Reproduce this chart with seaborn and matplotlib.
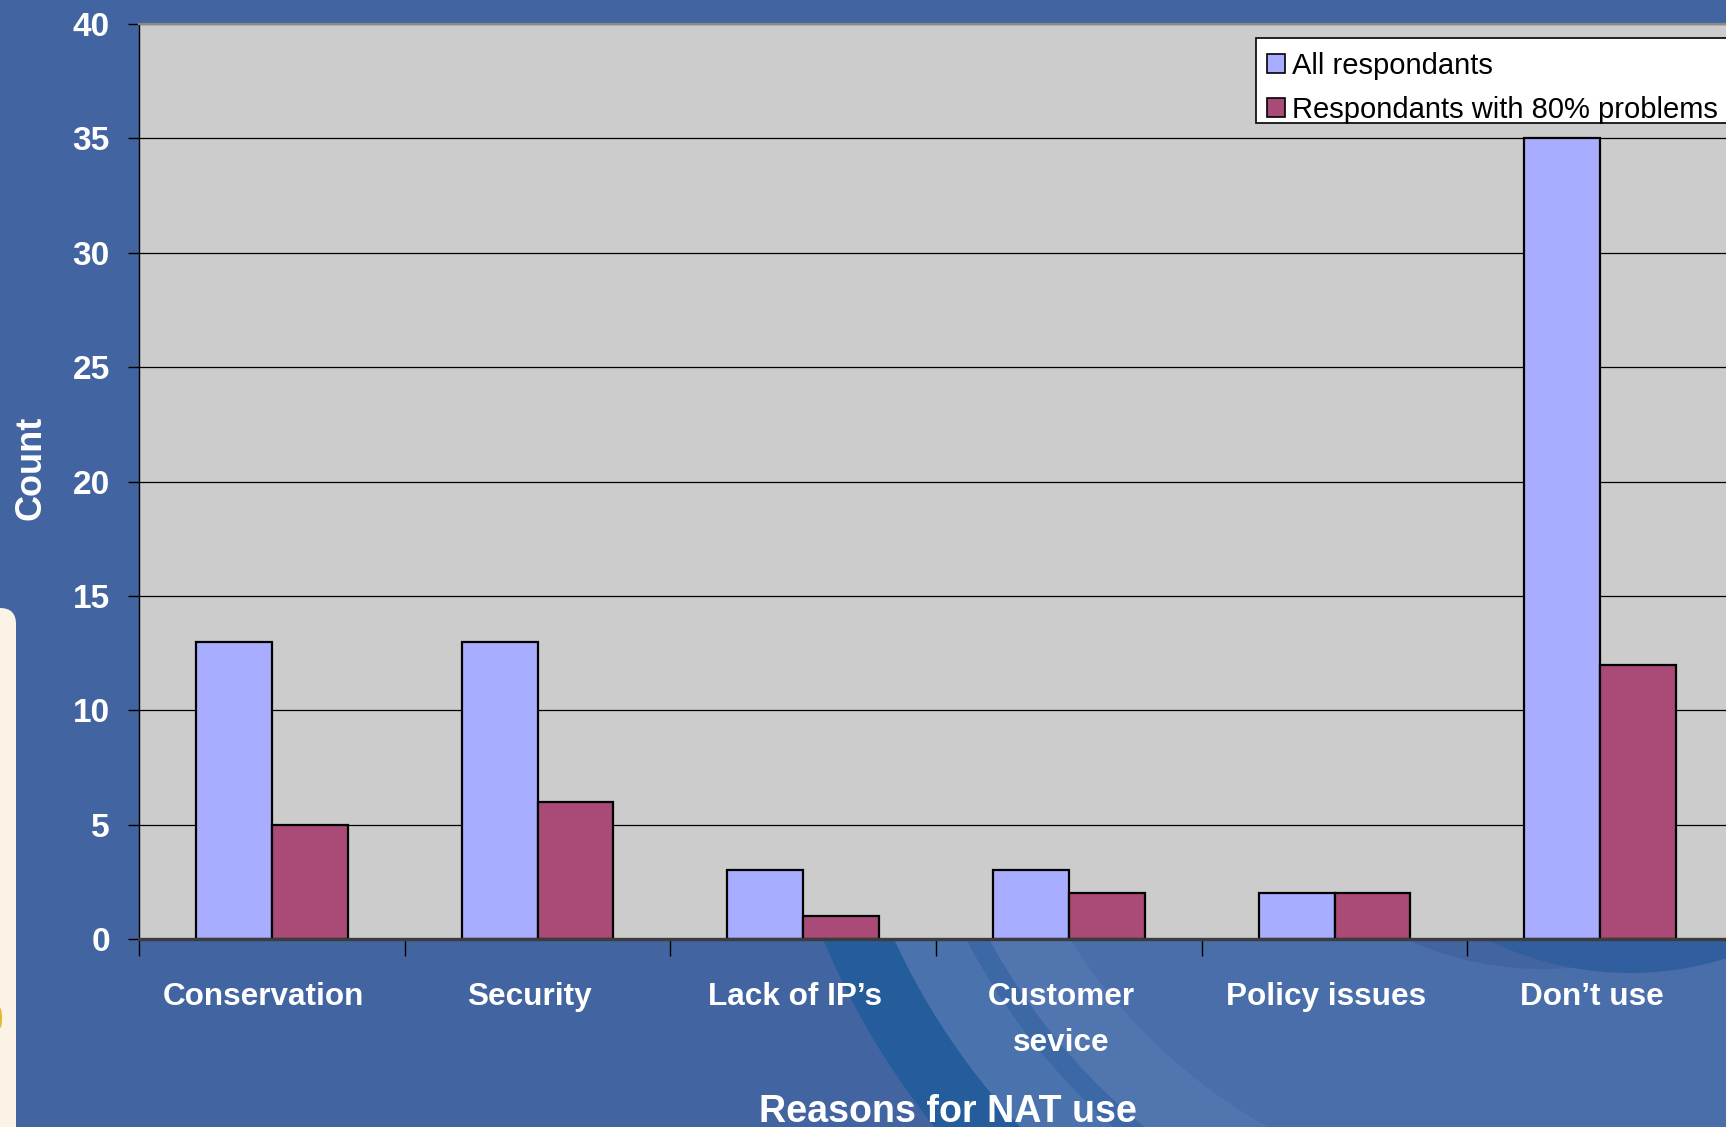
import matplotlib
matplotlib.use("Agg")
import matplotlib.pyplot as plt
import matplotlib.transforms as mtransforms
from matplotlib.patches import Wedge, Circle, Rectangle, FancyBboxPatch, Ellipse
import numpy as np
import pandas as pd
import seaborn as sns

# ---- data -------------------------------------------------------------
reasons = ["Conservation", "Security", "Lack of IP\u2019s",
           "Customer\nsevice", "Policy issues", "Don\u2019t use"]
all_respondants = [13, 13, 3, 3, 2, 35]
problem_respondants = [5, 6, 1, 2, 2, 12]
series_names = ["All respondants", "Respondants with 80% problems"]
y_ticks = [0, 5, 10, 15, 20, 25, 30, 35, 40]

df = pd.DataFrame({
    "reason": reasons * 2,
    "count": all_respondants + problem_respondants,
    "group": [series_names[0]] * len(reasons) + [series_names[1]] * len(reasons),
})

# ---- style ------------------------------------------------------------
BG = "#4264A1"
PLOT_BG = "#CCCCCC"
BAR_COLORS = ["#A9ADFF", "#AA4A77"]

sns.set_theme(style="white")
plt.rcParams["font.family"] = ["Liberation Sans", "DejaVu Sans"]

W, H = 1726, 1127
fig = plt.figure(figsize=(W / 100, H / 100), dpi=100, facecolor=BG)

# pixel coordinates (origin top-left) for the slide decoration
px = mtransforms.Affine2D().scale(1 / W, -1 / H).translate(0, 1) + fig.transFigure

# region below the plot area where the background swooshes show
clip = Rectangle((0, 939), W, H - 939, transform=px)


def deco(patch):
    patch.set_transform(px)
    patch.set_zorder(-10)
    patch.set_clip_path(clip)
    fig.patches.append(patch)


# concentric swoosh bands sweeping down to the right
SWOOSH_C = (1543, 639)
bands = [  # (outer radius, width, colour, alpha)
    (780, 65, "#245C9C", 1.0),
    (715, 65, "#4A72AD", 1.0),
    (650, 20, "#3C68A5", 1.0),
    (630, 70, "#5479B2", 0.85),
    (560, 105, "#4B71AD", 0.8),
    (455, 125, "#5077B0", 0.55),
]
for r, w, c, a in bands:
    deco(Wedge(SWOOSH_C, r, 0, 360, width=w, facecolor=c, edgecolor="none", alpha=a))
deco(Circle((1630, 651), 322, facecolor="#305E9E", edgecolor="none"))

# cream panel peeking in at the left edge
panel = FancyBboxPatch((-40, 608), 56, 600, boxstyle="round,pad=0,rounding_size=16",
                       transform=px, facecolor="#FAF3E6", edgecolor="none", zorder=-5)
fig.patches.append(panel)
fig.patches.append(Ellipse((0, 1018), 4, 20, transform=px, facecolor="#E8B52E",
                           edgecolor="none", zorder=-4))

# ---- chart ------------------------------------------------------------
ax = fig.add_axes([139 / W, 1 - 939 / H, (1733 - 139) / W, (939 - 24) / H])
ax.set_facecolor(PLOT_BG)
ax.set_axisbelow(True)

sns.barplot(data=df, x="reason", y="count", hue="group", palette=BAR_COLORS,
            saturation=1, width=2 / 3.5, gap=0, edgecolor="black",
            linewidth=1.6, ax=ax)

ax.set_xlim(-0.5, len(reasons) - 0.5)
ax.set_ylim(0, 40)
ax.set_yticks(y_ticks)
ax.yaxis.grid(True, color="black", linewidth=0.9)
ax.xaxis.grid(False)

ax.set_xticks(np.arange(-0.5, len(reasons), 1.0), minor=True)
ax.tick_params(axis="y", which="major", left=True, length=8, width=1,
               color="black", direction="out", pad=13, labelsize=24,
               labelcolor="white")
ax.tick_params(axis="x", which="major", length=0, pad=31, labelsize=22.7,
               labelcolor="white")
ax.tick_params(axis="x", which="minor", bottom=True, length=12, width=1,
               color="black", direction="out")

shift = mtransforms.ScaledTranslation(-8 / 100, 0, fig.dpi_scale_trans)
for lbl in ax.get_xticklabels():
    lbl.set_fontweight("bold")
    lbl.set_linespacing(1.68)
    lbl.set_transform(lbl.get_transform() + shift)
for lbl in ax.get_yticklabels():
    lbl.set_fontweight("bold")

for side in ("left", "bottom", "top"):
    ax.spines[side].set_visible(True)
ax.spines["left"].set_color("black")
ax.spines["left"].set_linewidth(1.0)
ax.spines["bottom"].set_color("#3C3C3C")
ax.spines["bottom"].set_linewidth(2.4)
ax.spines["top"].set_color("#8A8A8A")
ax.spines["top"].set_linewidth(1.6)
ax.spines["right"].set_visible(False)

ax.set_xlabel("Reasons for NAT use", fontsize=27.1, fontweight="bold",
              color="white", va="center")
ax.xaxis.set_label_coords(0.5075, -0.1895)
ax.set_ylabel("Count", fontsize=26, fontweight="bold", color="white", va="center")
ax.yaxis.set_label_coords(-0.068, 0.515)

# legend: white box with a thin black border, entries set a little low in it
legend_box = Rectangle((1256, 38), 520, 85, transform=px, facecolor="white",
                       edgecolor="black", linewidth=1.2, zorder=4.5, clip_on=False)
ax.add_patch(legend_box)

handles, labels = ax.get_legend_handles_labels()
leg = ax.legend(handles, labels, loc="upper left",
                bbox_to_anchor=(1267 / W, 1 - 52 / H), bbox_transform=fig.transFigure,
                borderaxespad=0, borderpad=0, frameon=False, fontsize=21,
                handlelength=0.6, handleheight=0.6, handletextpad=0.24,
                labelspacing=0.55)
leg.set_zorder(5)
for h in leg.legend_handles:
    h.set_edgecolor("black")
    h.set_linewidth(1.2)
for t in leg.get_texts():
    t.set_color("black")

fig.savefig("out.png", dpi=100, facecolor=BG)
